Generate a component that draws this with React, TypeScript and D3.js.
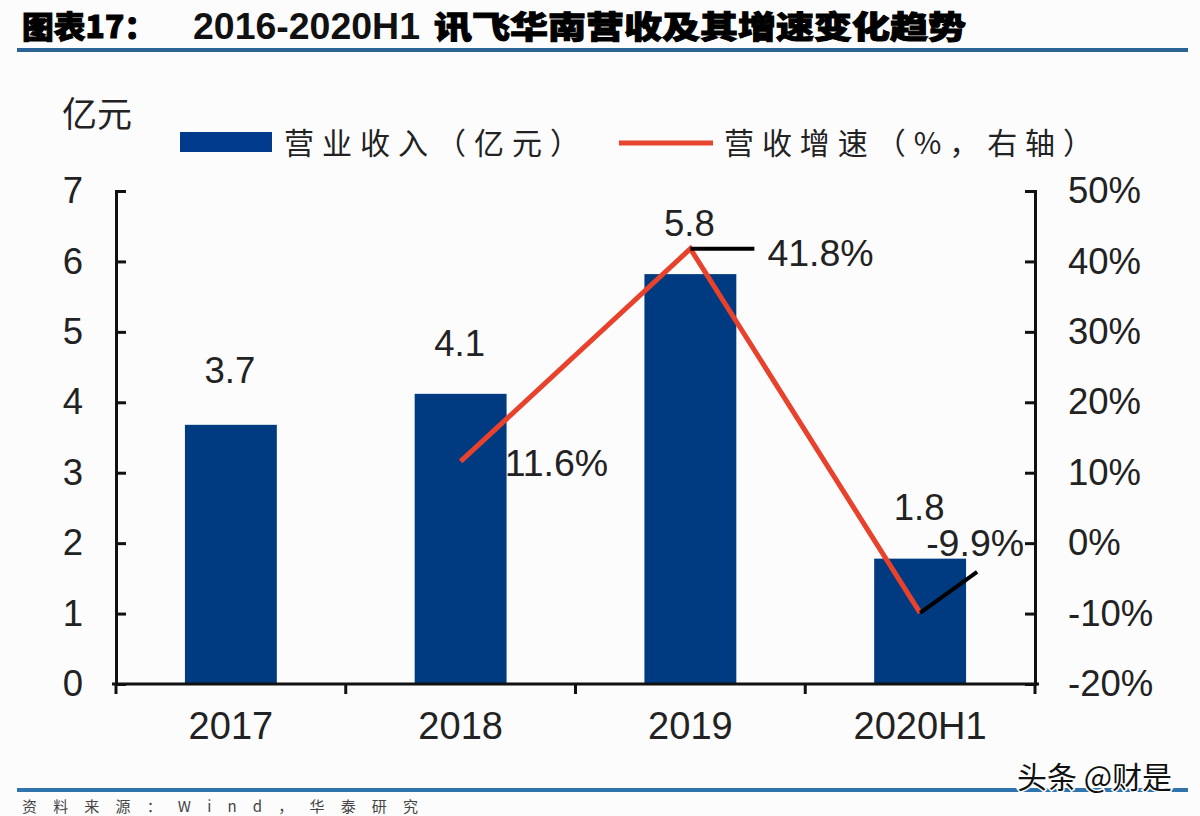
import React, { useRef, useEffect } from 'react';
import * as d3 from 'd3';

const categories = ['2017', '2018', '2019', '2020H1'];
const revenue = [3.68, 4.12, 5.82, 1.78];
const revenueLabels = ['3.7', '4.1', '5.8', '1.8'];
const growth = [null, 11.6, 41.8, -9.9];
const growthLabels = ['', '11.6%', '41.8%', '-9.9%'];
const leftTicks = [0, 1, 2, 3, 4, 5, 6, 7];
const rightTicks = [-20, -10, 0, 10, 20, 30, 40, 50];

const W = 1200;
const H = 816;
const FONT = '"Liberation Sans", Arial, sans-serif';
const CJK = '"Noto Sans CJK SC", sans-serif';

const App: React.FC = () => {
  const svgRef = useRef<SVGSVGElement | null>(null);

  useEffect(() => {
    const margin = { top: 191, right: 165, bottom: 132, left: 116 };
    const svg = d3.select(svgRef.current).attr('width', W).attr('height', H);
    svg.selectAll('*').remove();

    svg.append('rect').attr('width', W).attr('height', H).attr('fill', '#fcfcfd');

    const x = d3
      .scaleBand()
      .domain(categories)
      .range([margin.left, W - margin.right]);
    const y = d3.scaleLinear().domain([0, 7]).range([H - margin.bottom, margin.top]);
    const y2 = d3.scaleLinear().domain([-20, 50]).range([H - margin.bottom, margin.top]);
    const cx = (c: string) => x(c)! + x.bandwidth() / 2;

    // title and rules
    svg
      .append('text')
      .attr('x', 22)
      .attr('y', 38)
      .attr('font-family', CJK)
      .attr('font-weight', 900)
      .attr('font-size', 31)
      .attr('stroke', '#000')
      .attr('stroke-width', 1)
      .attr('textLength', 134)
      .attr('lengthAdjust', 'spacingAndGlyphs')
      .text('图表17：');
    svg
      .append('text')
      .attr('x', 193)
      .attr('y', 39)
      .attr('font-family', FONT)
      .attr('font-weight', 700)
      .attr('font-size', 36)
      .attr('textLength', 227)
      .attr('lengthAdjust', 'spacingAndGlyphs')
      .attr('fill', '#111')
      .text('2016-2020H1');
    svg
      .append('text')
      .attr('x', 434)
      .attr('y', 38)
      .attr('font-family', CJK)
      .attr('font-weight', 900)
      .attr('font-size', 31)
      .attr('stroke', '#000')
      .attr('stroke-width', 1)
      .attr('textLength', 532)
      .attr('lengthAdjust', 'spacingAndGlyphs')
      .text('讯飞华南营收及其增速变化趋势');

    svg.append('rect').attr('x', 17).attr('y', 48).attr('width', 1171).attr('height', 4).attr('fill', '#2a6496');
    svg.append('rect').attr('x', 17).attr('y', 788).attr('width', 1171).attr('height', 4).attr('fill', '#2f74ad');

    // legend
    svg.append('text').attr('x', 62).attr('y', 127).attr('font-family', CJK).attr('font-size', 35).attr('fill', '#222').text('亿元');
    svg.append('rect').attr('x', 180).attr('y', 132).attr('width', 92).attr('height', 20).attr('fill', '#003a8c');
    svg.append('text').attr('x', 284).attr('y', 154).attr('font-family', CJK).attr('font-size', 30).attr('fill', '#222').attr('textLength', 296).text('营业收入（亿元）');
    svg.append('line').attr('x1', 619).attr('x2', 713).attr('y1', 143).attr('y2', 143).attr('stroke', '#e8452f').attr('stroke-width', 5);
    svg.append('text').attr('x', 724).attr('y', 154).attr('font-family', CJK).attr('font-size', 30).attr('fill', '#222').attr('textLength', 369).text('营收增速（%，右轴）');

    // bars
    const barWidth = x.bandwidth() * 0.4;
    svg
      .selectAll('rect.bar')
      .data(categories)
      .enter()
      .append('rect')
      .attr('class', 'bar')
      .attr('x', (c) => cx(c) - barWidth / 2)
      .attr('width', barWidth)
      .attr('y', (_, i) => y(revenue[i]))
      .attr('height', (_, i) => y(0) - y(revenue[i]))
      .attr('fill', '#003a80');

    // axes
    const axisColor = '#111';
    const styleAxis = (g: d3.Selection<SVGGElement, unknown, null, undefined>) => {
      g.selectAll('path').attr('stroke', axisColor).attr('stroke-width', 3);
      g.selectAll('line').attr('stroke', axisColor).attr('stroke-width', 3);
      g.selectAll('text').attr('font-family', FONT).attr('font-size', 36.5).attr('fill', '#222');
    };

    svg
      .append('g')
      .attr('transform', `translate(${margin.left},0)`)
      .call(d3.axisLeft(y).tickValues(leftTicks).tickSize(-10).tickSizeOuter(-10).tickPadding(33).tickFormat(d3.format('d')) as any)
      .call(styleAxis as any);

    svg
      .append('g')
      .attr('transform', `translate(${W - margin.right},0)`)
      .call(
        d3
          .axisRight(y2)
          .tickValues(rightTicks)
          .tickSize(-10)
          .tickSizeOuter(-10)
          .tickPadding(33)
          .tickFormat((d) => `${d}%`) as any
      )
      .call(styleAxis as any);

    const xAxis = svg
      .append('g')
      .attr('transform', `translate(0,${H - margin.bottom})`)
      .call(d3.axisBottom(x).tickSize(0).tickPadding(28) as any)
      .call(styleAxis as any);
    xAxis.selectAll('text').attr('font-size', 38);
    xAxis.select('path').attr('d', `M${margin.left - 4},0H${W - margin.right + 4}`);
    // ticks sit between the categories
    xAxis
      .selectAll('line.sep')
      .data(d3.range(categories.length + 1))
      .enter()
      .append('line')
      .attr('class', 'sep')
      .attr('x1', (i) => margin.left + i * x.step())
      .attr('x2', (i) => margin.left + i * x.step())
      .attr('y1', 0)
      .attr('y2', 10)
      .attr('stroke', axisColor)
      .attr('stroke-width', 3);

    // growth line
    const linePoints = categories
      .map((c, i) => ({ c, v: growth[i] }))
      .filter((d) => d.v !== null) as { c: string; v: number }[];
    const line = d3
      .line<{ c: string; v: number }>()
      .x((d) => cx(d.c))
      .y((d) => y2(d.v));
    svg
      .append('path')
      .attr('d', line(linePoints)!)
      .attr('fill', 'none')
      .attr('stroke', '#e8412c')
      .attr('stroke-width', 5);

    // leader lines
    const leaderStyle = (s: any) => s.attr('stroke', '#000').attr('stroke-width', 4).attr('fill', 'none');
    svg
      .append('line')
      .attr('x1', cx('2019'))
      .attr('y1', y2(41.8))
      .attr('x2', cx('2019') + 64)
      .attr('y2', y2(41.8))
      .call(leaderStyle);
    svg
      .append('line')
      .attr('x1', cx('2020H1'))
      .attr('y1', y2(-9.9))
      .attr('x2', cx('2020H1') + 57)
      .attr('y2', y2(-9.9) - 41)
      .call(leaderStyle);

    // data labels
    const labelDy = [-42, -38, -38, -39];
    svg
      .selectAll('text.rev')
      .data(categories)
      .enter()
      .append('text')
      .attr('class', 'rev')
      .attr('x', (c) => cx(c) - 1)
      .attr('y', (_, i) => y(revenue[i]) + labelDy[i])
      .attr('text-anchor', 'middle')
      .attr('font-family', FONT)
      .attr('font-size', 36.5)
      .attr('fill', '#222')
      .text((_, i) => revenueLabels[i]);

    const growthDx = [0, 44, 77, 6];
    const growthDy = [0, 15, 17, -57];
    svg
      .selectAll('text.growth')
      .data(categories)
      .enter()
      .append('text')
      .attr('class', 'growth')
      .attr('x', (c) => cx(c) + growthDx[categories.indexOf(c)])
      .attr('y', (_, i) => (growth[i] === null ? 0 : y2(growth[i] as number) + growthDy[i]))
      .attr('font-family', FONT)
      .attr('font-size', 37.5)
      .attr('fill', '#222')
      .text((_, i) => growthLabels[i]);

    // source line, squeezed into the strip left under the bottom rule
    svg
      .append('text')
      .attr('x', 22)
      .attr('y', 812)
      .attr('font-family', CJK)
      .attr('font-size', 15)
      .attr('fill', '#444')
      .attr('textLength', 396)
      .text('资料来源：Wind，华泰研究');

    // watermark
    svg
      .append('text')
      .attr('x', 1017)
      .attr('y', 788)
      .attr('font-family', CJK)
      .attr('font-size', 30)
      .attr('fill', '#111')
      .attr('stroke', '#fff')
      .attr('stroke-width', 3)
      .attr('paint-order', 'stroke')
      .text('头条 @财是');
  }, []);

  return <svg ref={svgRef} style={{ position: 'absolute', left: 0, top: 0, display: 'block' }}></svg>;
};

export default App;
